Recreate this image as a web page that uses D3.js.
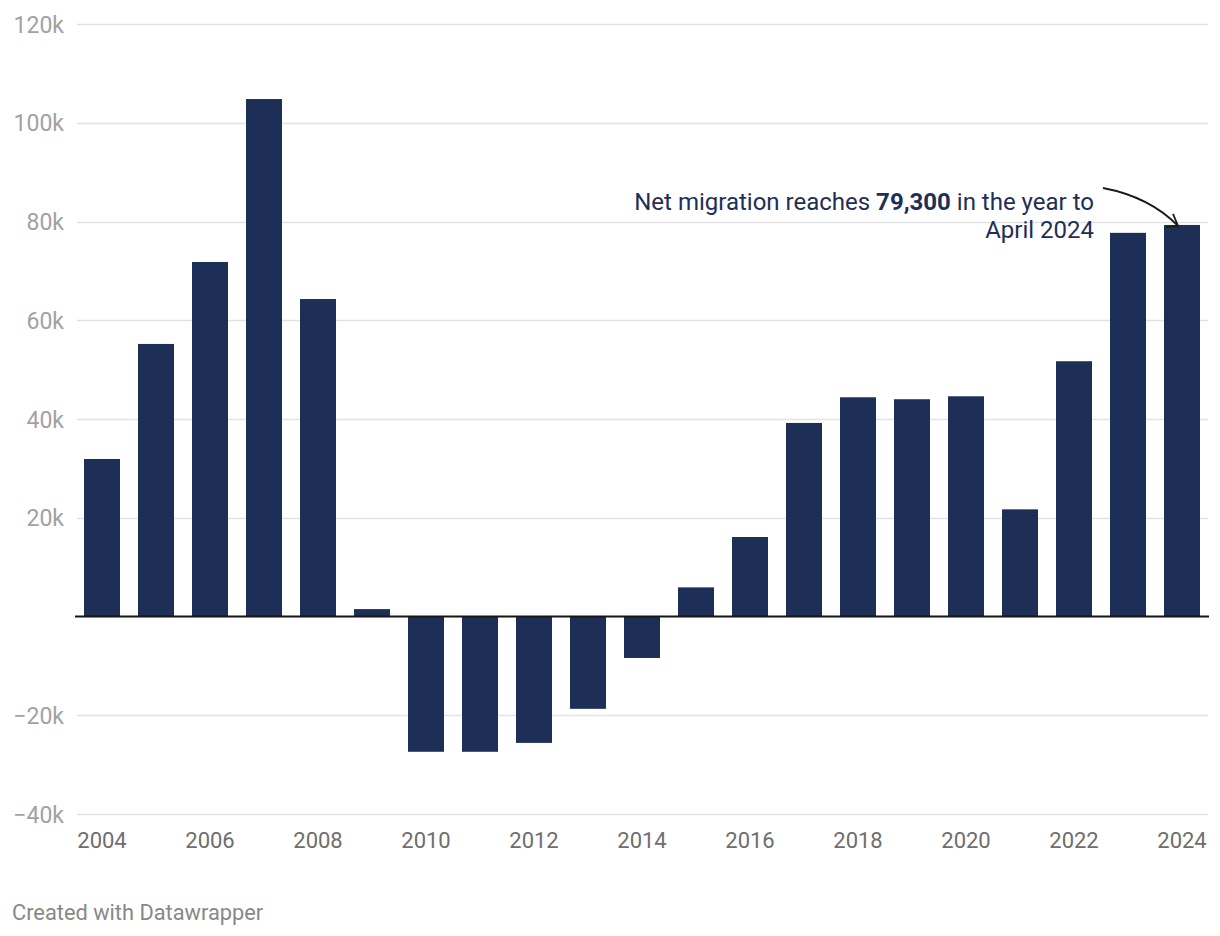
<!DOCTYPE html>
<html>
<head>
<meta charset="utf-8">
<script src="https://cdn.jsdelivr.net/npm/d3@7"></script>
<style>
  html, body { margin: 0; padding: 0; background: #fff; }
  svg { display: block; font-family: Roboto, "Noto Sans", sans-serif; }
</style>
</head>
<body>
<svg id="chart" width="1220" height="936"></svg>
<script>
const years = [2004,2005,2006,2007,2008,2009,2010,2011,2012,2013,2014,2015,2016,2017,2018,2019,2020,2021,2022,2023,2024];
const netMigration = [31900,55200,71800,104800,64300,1500,-27400,-27400,-25600,-18700,-8400,5900,16100,39200,44400,44000,44600,21700,51700,77700,79300];
const yTicks = [-40000,-20000,0,20000,40000,60000,80000,100000,120000];
const yTickLabels = ["\u221240k","\u221220k","","20k","40k","60k","80k","100k","120k"];
const xTickYears = [2004,2006,2008,2010,2012,2014,2016,2018,2020,2022,2024];
const annotationLine1 = ["Net migration reaches ", "79,300", " in the year to"];
const annotationLine2 = "April 2024";
const footer = "Created with Datawrapper";

const FONT = "Roboto, 'Noto Sans', sans-serif";
const svg = d3.select("#chart");
svg.append("rect").attr("width",1220).attr("height",936).attr("fill","#fff");

const x = d3.scaleBand().domain(years).range([75, 1209]).paddingInner(1/3).paddingOuter(1/6);
const y = d3.scaleLinear().domain([-40000, 120000]).range([814, 24]);

// y axis labels
const yAxis = d3.axisLeft(y).tickValues(yTicks).tickSize(0).tickFormat((d,i)=>yTickLabels[i]);
const gy = svg.append("g").attr("transform","translate(64,0)").call(yAxis)
  .attr("font-family",FONT).attr("font-size",23);
gy.select(".domain").remove();
gy.selectAll("text").attr("x",0).attr("dy","0.35em").attr("fill","#a2a2a2").attr("text-anchor","end");

// gridlines
svg.append("g").selectAll("line").data(yTicks.filter(d=>d!==0)).join("line")
  .attr("x1",77).attr("x2",1208)
  .attr("y1",d=>Math.round(y(d))+0.5).attr("y2",d=>Math.round(y(d))+0.5)
  .attr("stroke","#e2e2e2").attr("stroke-width",1.5);

// bars
svg.append("g").selectAll("rect").data(years).join("rect")
  .attr("x",d=>x(d))
  .attr("width",x.bandwidth())
  .attr("y",(d,i)=>Math.min(y(netMigration[i]), y(0)))
  .attr("height",(d,i)=>Math.abs(y(netMigration[i]) - y(0)))
  .attr("fill","#1d2f57");

// zero line
svg.append("line").attr("x1",75).attr("x2",1209)
  .attr("y1",y(0)).attr("y2",y(0))
  .attr("stroke","#151515").attr("stroke-width",2.2);

// x axis
const xAxis = d3.axisBottom(x).tickValues(xTickYears).tickSize(0);
const gx = svg.append("g").attr("transform","translate(0,848)").call(xAxis)
  .attr("font-family",FONT).attr("font-size",22);
gx.select(".domain").remove();
gx.selectAll("text").attr("y",0).attr("dy",0).attr("fill","#6e6e6e");

// annotation
const ann = svg.append("text").attr("text-anchor","end").attr("fill","#1d2f57")
  .attr("font-family",FONT).attr("font-size",24);
const t1 = ann.append("tspan").attr("x",1094).attr("y",210);
t1.append("tspan").text(annotationLine1[0]);
t1.append("tspan").attr("font-weight","bold").text(annotationLine1[1]);
t1.append("tspan").text(annotationLine1[2]);
ann.append("tspan").attr("x",1094).attr("y",238).text(annotationLine2);

// arrow
const tip = [x(2024) + x.bandwidth()/2 - 4, y(79300) + 1];
svg.append("path")
  .attr("d", `M1103,188 Q1150,197 ${tip[0]},${tip[1]}`)
  .attr("fill","none").attr("stroke","#1a1a1a").attr("stroke-width",1.8);
svg.append("path")
  .attr("d", `M${tip[0]-5},${tip[1]-12} L${tip[0]},${tip[1]} L${tip[0]-12},${tip[1]+1}`)
  .attr("fill","none").attr("stroke","#1a1a1a").attr("stroke-width",1.8);

// footer
svg.append("text").attr("x",12).attr("y",920).attr("fill","#888")
  .attr("font-family",FONT).attr("font-size",21.8).text(footer);
</script>
</body>
</html>
